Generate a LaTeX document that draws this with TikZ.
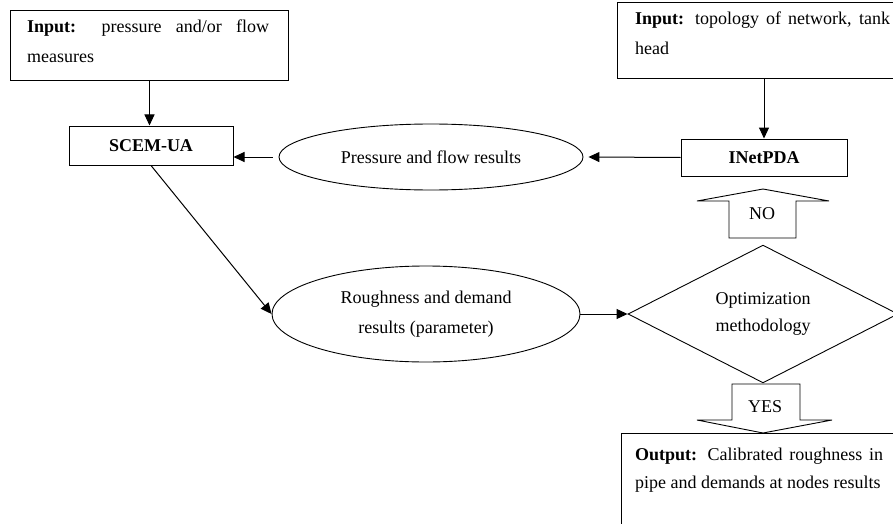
\documentclass[tikz,border=0pt]{standalone}
\usepackage{fontspec}
\setmainfont{Liberation Serif}
\usetikzlibrary{shapes.geometric,arrows.meta}
\begin{document}
\begin{tikzpicture}[x=1pt,y=-1pt,
  every node/.style={font=\fontsize{18}{30}\selectfont},
  box/.style={draw, line width=1pt, inner sep=0pt},
  ell/.style={draw, ellipse, line width=0.9pt, inner sep=0pt, align=center},
  arr/.style={line width=1pt, -{Triangle[length=11pt,width=10pt]}},
  txt/.style={anchor=base west, inner sep=0pt},
  blockarrow/.style={draw, line width=0.9pt, fill=white}
]
\clip (0,0) rectangle (893,524);
\fill[white] (0,0) rectangle (893,524);

% input boxes
\node[box, anchor=north west, minimum width=278pt, minimum height=70pt] (in1) at (10,10) {};
\node[txt] (in1t) at (27,33) {\parbox[t]{242pt}{\fontsize{18}{30}\selectfont\makebox[242pt][s]{\textbf{Input:} pressure and/or flow}\\measures}};

\node[box, anchor=north west, minimum width=290pt, minimum height=76pt] (in2) at (617,2) {};
\node[txt] (in2t) at (635,25) {\parbox[t]{255pt}{\fontsize{18}{30}\selectfont\makebox[255pt][s]{\textbf{Input:} topology of network, tank}\\head}};

% process boxes
\node[box, minimum width=164pt, minimum height=39pt, font=\fontsize{18}{30}\selectfont\bfseries] (scem) at (151,145.5) {SCEM-UA};
\node[box, minimum width=166pt, minimum height=37pt, font=\fontsize{18}{30}\selectfont\bfseries] (inet) at (764,157.5) {INetPDA};

% ellipses
\node[ell, minimum width=304pt, minimum height=66pt] (ell1) at (431,157) {Pressure and flow results};
\node[ell, minimum width=308pt, minimum height=96pt] (ell2) at (426,314) {Roughness and demand\\results (parameter)};

% decision
\node[draw, diamond, line width=0.9pt, minimum width=270pt, minimum height=136pt, inner sep=0pt, align=center, font=\fontsize{18}{27}\selectfont] (opt) at (763,314) {Optimization\\methodology};

% block arrows
\draw[blockarrow] (763,189) -- (829,201) -- (796,201) -- (796,238) -- (729,238) -- (729,201) -- (697,201) -- cycle;
\node (no) at (762,214) {NO};
\draw[blockarrow] (732,384) -- (800,384) -- (800,420) -- (832,420) -- (763,433) -- (697,420) -- (732,420) -- cycle;
\node (yes) at (765,407) {YES};

% output
\node[box, anchor=north west, minimum width=290pt, minimum height=100pt] (out) at (621,433) {};
\node[txt] (outt) at (635,460) {\parbox[t]{248pt}{\fontsize{18}{28}\selectfont\makebox[248pt][s]{\textbf{Output:} Calibrated roughness in}\\pipe and demands at nodes results}};

% connectors
\draw[arr] (in1.south) -- (in1.south |- scem.north);
\draw[arr] ([xshift=-6pt]ell1.west) -- (scem.east |- ell1.west);
\draw[arr] (inet.west) -- ([xshift=5pt]ell1.east);
\draw[arr] (inet.north |- in2.south) -- (inet.north);
\draw[arr] (scem.south) -- (ell2.west);
\draw[arr] (ell2.east) -- (opt.west);
\end{tikzpicture}
\end{document}
